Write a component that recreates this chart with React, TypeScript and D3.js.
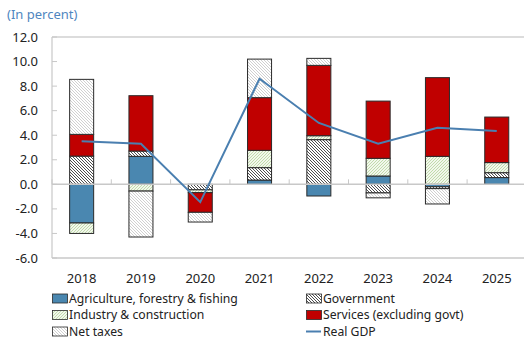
import React from "react";
import * as d3 from "d3";

const years = ["2018", "2019", "2020", "2021", "2022", "2023", "2024", "2025"];
const agri = [-3.15, 2.28, 0.0, 0.35, -0.95, 0.68, -0.2, 0.55];
const gov = [2.3, 0.43, -0.45, 1.01, 3.64, -0.7, -0.15, 0.4];
const industry = [-0.85, -0.55, -0.23, 1.41, 0.32, 1.44, 2.28, 0.82];
const services = [1.77, 4.51, -1.6, 4.29, 5.73, 4.66, 6.41, 3.71];
const netTaxes = [4.48, -3.74, -0.79, 3.14, 0.57, -0.4, -1.25, 0.0];
const realGdp = [3.5, 3.3, -1.45, 8.6, 5.0, 3.3, 4.6, 4.35];
const yTicks = [-6, -4, -2, 0, 2, 4, 6, 8, 10, 12];

const keys = ["agri", "gov", "industry", "services", "netTaxes"];
const labels: Record<string, string> = {
  agri: "Agriculture, forestry & fishing",
  gov: "Government",
  industry: "Industry & construction",
  services: "Services (excluding govt)",
  netTaxes: "Net taxes",
};
const fills: Record<string, string> = {
  agri: "#4a87b0",
  gov: "url(#pGov)",
  industry: "url(#pInd)",
  services: "#c00000",
  netTaxes: "url(#pTax)",
};

const FONT = "'Noto Sans', 'Open Sans', sans-serif";

export default function App() {
  const W = 524, H = 339;
  const left = 52, right = 526.4, top = 37, bottom = 258;
  const x = d3.scaleBand<string>().domain(years).range([left, right]).paddingInner(0.595).paddingOuter(0.2975);
  const y = d3.scaleLinear().domain([-6, 12]).range([bottom, top]);
  const table = years.map((yr, i) => ({
    year: yr,
    agri: agri[i],
    gov: gov[i],
    industry: industry[i],
    services: services[i],
    netTaxes: netTaxes[i],
  }));
  const series = d3.stack<any>().keys(keys).offset(d3.stackOffsetDiverging)(table);
  const line = d3
    .line<number>()
    .x((_, i) => (x(years[i]) as number) + x.bandwidth() / 2)
    .y((d) => y(d));
  const step = x.step();
  const boundaries = d3.range(0, years.length + 1).map((k) => left + k * step);

  const legendItems = [
    { key: "agri", col: 0, row: 0 },
    { key: "gov", col: 1, row: 0 },
    { key: "industry", col: 0, row: 1 },
    { key: "services", col: 1, row: 1 },
    { key: "netTaxes", col: 0, row: 2 },
    { key: "gdp", col: 1, row: 2 },
  ];
  const colX = [52, 306];
  const rowY = [298.5, 315, 331.5];

  return (
    <svg width={W} height={H} style={{ position: "absolute", left: 0, top: 0, background: "#fff" }}>
      <defs>
        <pattern id="pGov" patternUnits="userSpaceOnUse" width="3" height="3">
          <rect width="3" height="3" fill="#fff" />
          <path d="M-1,-1 L4,4 M-1,2 L1,4 M2,-1 L4,1" stroke="#3a3a3a" strokeWidth="0.9" />
        </pattern>
        <pattern id="pTax" patternUnits="userSpaceOnUse" width="3" height="3">
          <rect width="3" height="3" fill="#fff" />
          <path d="M-1,-1 L4,4 M-1,2 L1,4 M2,-1 L4,1" stroke="#c4c4c4" strokeWidth="0.8" />
        </pattern>
        <pattern id="pInd" patternUnits="userSpaceOnUse" width="3" height="3">
          <rect width="3" height="3" fill="#f2f7ec" />
          <path d="M-1,4 L4,-1 M-1,1 L1,-1 M2,4 L4,2" stroke="#b5d49a" strokeWidth="0.8" />
        </pattern>
      </defs>

      <text x={7} y={19} fontFamily={FONT} fontSize={13} fill="#4f86c0">(In percent)</text>

      {/* frame */}
      <line x1={left} x2={W} y1={top} y2={top} stroke="#d0d0d0" strokeWidth={1.5} />
      <line x1={left} x2={W} y1={bottom} y2={bottom} stroke="#c8c8c8" strokeWidth={1.5} />
      <line x1={left} x2={left} y1={top} y2={bottom} stroke="#c8c8c8" strokeWidth={1.2} />
      {yTicks.map((t) => (
        <g key={t}>
          <line x1={left} x2={left + 5} y1={y(t)} y2={y(t)} stroke="#c8c8c8" />
          <text x={38} y={y(t)} dy="0.35em" textAnchor="end" fontFamily={FONT} fontSize={13} fill="#222">
            {t.toFixed(1)}
          </text>
        </g>
      ))}

      {/* bars */}
      {series.map((s) => (
        <g key={s.key}>
          {s.map((d, i) => {
            const y0 = y(Math.max(d[0], d[1]));
            const y1 = y(Math.min(d[0], d[1]));
            if (Math.abs(d[1] - d[0]) < 1e-9) return null;
            return (
              <rect
                key={i}
                x={x(years[i])}
                y={y0}
                width={x.bandwidth()}
                height={y1 - y0}
                fill={fills[s.key]}
                stroke="#2a2a2a"
                strokeWidth={1}
              />
            );
          })}
        </g>
      ))}

      {/* zero line */}
      <line x1={left} x2={W} y1={y(0)} y2={y(0)} stroke="#c8c8c8" strokeWidth={1.5} />
      {boundaries.map((b, i) => (
        <line key={i} x1={b} x2={b} y1={y(0)} y2={y(0) - 5} stroke="#c8c8c8" />
      ))}

      <path d={line(realGdp) || ""} fill="none" stroke="#4a7fb0" strokeWidth={2} />

      {years.map((yr) => (
        <text
          key={yr}
          x={(x(yr) as number) + x.bandwidth() / 2}
          y={283}
          textAnchor="middle"
          fontFamily={FONT}
          fontSize={13}
          fill="#222"
        >
          {yr}
        </text>
      ))}

      {legendItems.map((it) => {
        const lx = colX[it.col];
        const ly = rowY[it.row];
        return (
          <g key={it.key}>
            {it.key === "gdp" ? (
              <line x1={lx} x2={lx + 15} y1={ly} y2={ly} stroke="#4a7fb0" strokeWidth={2} />
            ) : (
              <rect x={lx + 0.5} y={ly - 4.5} width={15} height={9} fill={fills[it.key]} stroke="#2a2a2a" strokeWidth={0.8} />
            )}
            <text x={lx + 17} y={ly} dy="0.34em" fontFamily={FONT} fontSize={12.2} fill="#222">
              {it.key === "gdp" ? "Real GDP" : labels[it.key]}
            </text>
          </g>
        );
      })}
    </svg>
  );
}
